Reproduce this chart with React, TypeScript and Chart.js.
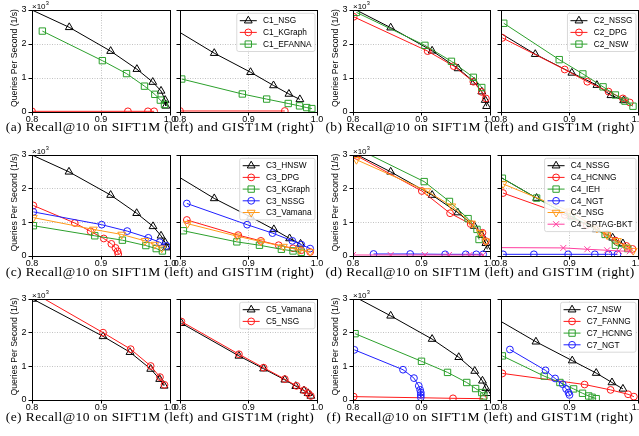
import React, { useEffect, useRef } from 'react';
import { Chart, registerables } from 'chart.js';

Chart.register(...registerables);

type Pt = [number, number];
type Mk = 'tri' | 'triDown' | 'circle' | 'square' | 'x';

// ---------- axes / text ----------
const X_TICKS = [0.8, 0.9, 1.0];
const Y_TICKS = [0, 1, 2, 3];
const X_MIN = 0.8;
const X_MAX = 1.0;
const Y_MIN = 0;
const Y_MAX = 3;
const Y_TITLE = 'Queries Per Second (1/s)';
const OFFSET_BASE = '×10';
const OFFSET_EXP = '3';
const CAPTIONS = [
  '(a) Recall@10 on SIFT1M (left) and GIST1M (right)',
  '(b) Recall@10 on SIFT1M (left) and GIST1M (right)',
  '(c) Recall@10 on SIFT1M (left) and GIST1M (right)',
  '(d) Recall@10 on SIFT1M (left) and GIST1M (right)',
  '(e) Recall@10 on SIFT1M (left) and GIST1M (right)',
  '(f) Recall@10 on SIFT1M (left) and GIST1M (right)',
];

// ---------- data: [Recall@10, QPS x10^3] ----------
// (a)
const a_sift_NSG: Pt[] = [[0.785, 3.14], [0.854, 2.49], [0.914, 1.79], [0.952, 1.26], [0.975, 0.88], [0.987, 0.62], [0.993, 0.35], [0.994, 0.18]];
const a_sift_KGraph: Pt[] = [[0.8, 0.02], [0.939, 0.02], [0.968, 0.02], [0.977, 0.02]];
const a_sift_EFANNA: Pt[] = [[0.815, 2.38], [0.902, 1.51], [0.937, 1.13], [0.963, 0.76], [0.978, 0.52], [0.986, 0.35], [0.992, 0.22]];
const a_gist_NSG: Pt[] = [[0.79, 2.46], [0.85, 1.73], [0.903, 1.17], [0.9365, 0.78], [0.959, 0.53], [0.975, 0.37]];
const a_gist_KGraph: Pt[] = [[0.8, 0.03], [0.953, 0.03]];
const a_gist_EFANNA: Pt[] = [[0.8025, 0.97], [0.891, 0.53], [0.9265, 0.38], [0.958, 0.25], [0.9745, 0.18], [0.985, 0.13], [0.9925, 0.1]];
// (b)
const b_sift_NSSG: Pt[] = [[0.79, 3.15], [0.855, 2.48], [0.9155, 1.8], [0.9534, 1.28], [0.9767, 0.885], [0.988, 0.6], [0.993, 0.35], [0.995, 0.17]];
const b_sift_DPG: Pt[] = [[0.801, 2.8], [0.909, 1.79], [0.947, 1.35], [0.9757, 0.89], [0.988, 0.59], [0.994, 0.4]];
const b_sift_NSW: Pt[] = [[0.805, 2.93], [0.905, 1.96], [0.9437, 1.49], [0.9757, 1.02], [0.988, 0.72]];
const b_gist_NSSG: Pt[] = [[0.79, 2.43], [0.85, 1.7], [0.9034, 1.15], [0.94, 0.79], [0.9605, 0.49], [0.979, 0.34]];
const b_gist_DPG: Pt[] = [[0.802, 2.18], [0.893, 1.25], [0.926, 0.89], [0.957, 0.6], [0.978, 0.4], [0.988, 0.28]];
const b_gist_NSW: Pt[] = [[0.804, 2.61], [0.885, 1.54], [0.9195, 1.12], [0.949, 0.74], [0.967, 0.5], [0.981, 0.32], [0.9927, 0.17]];
// (c)
const c_sift_HNSW: Pt[] = [[0.785, 3.14], [0.8536, 2.5], [0.914, 1.81], [0.9517, 1.27], [0.9754, 0.88], [0.987, 0.6], [0.993, 0.4], [0.995, 0.25]];
const c_sift_DPG: Pt[] = [[0.802, 1.5], [0.862, 0.98], [0.885, 0.73], [0.904, 0.52], [0.915, 0.36], [0.921, 0.24], [0.924, 0.14], [0.925, 0.06]];
const c_sift_KGraph: Pt[] = [[0.802, 0.9], [0.891, 0.6], [0.931, 0.47], [0.965, 0.31], [0.98, 0.22], [0.989, 0.15]];
const c_sift_NSSG: Pt[] = [[0.802, 1.31], [0.901, 0.93], [0.938, 0.74], [0.9686, 0.54], [0.985, 0.41], [0.995, 0.3]];
const c_sift_Vamana: Pt[] = [[0.802, 1.14], [0.889, 0.79], [0.93, 0.64], [0.9638, 0.45], [0.978, 0.34], [0.988, 0.23]];
const c_gist_HNSW: Pt[] = [[0.79, 2.45], [0.85, 1.71], [0.903, 1.16], [0.937, 0.79], [0.96, 0.52], [0.976, 0.36]];
const c_gist_DPG: Pt[] = [[0.81, 1.07], [0.885, 0.62], [0.918, 0.45], [0.944, 0.32], [0.965, 0.23], [0.977, 0.17], [0.99, 0.12]];
const c_gist_KGraph: Pt[] = [[0.805, 0.75], [0.883, 0.42], [0.916, 0.32], [0.948, 0.2], [0.965, 0.15], [0.977, 0.11]];
const c_gist_NSSG: Pt[] = [[0.81, 1.56], [0.898, 0.93], [0.935, 0.68], [0.964, 0.45], [0.977, 0.34], [0.99, 0.22]];
const c_gist_Vamana: Pt[] = [[0.811, 0.96], [0.883, 0.59], [0.918, 0.43], [0.951, 0.28], [0.974, 0.18], [0.99, 0.12]];
// (d)
const d_sift_NSSG: Pt[] = [[0.805, 3.02], [0.855, 2.5], [0.9155, 1.81], [0.953, 1.29], [0.977, 0.89], [0.988, 0.62], [0.994, 0.38], [0.996, 0.2]];
const d_sift_HCNNG: Pt[] = [[0.806, 2.97], [0.9005, 1.93], [0.9417, 1.27], [0.9718, 0.95], [0.989, 0.69], [0.994, 0.44]];
const d_sift_IEH: Pt[] = [[0.79, 3.35], [0.9039, 2.21], [0.9408, 1.62], [0.968, 1.11], [0.981, 0.79], [0.984, 0.49]];
const d_sift_NGT: Pt[] = [[0.83, 0.06], [0.8835, 0.06], [0.9345, 0.05], [0.9646, 0.05], [0.98, 0.05], [0.99, 0.05]];
const d_sift_NSG: Pt[] = [[0.805, 2.86], [0.9078, 1.93], [0.9442, 1.48], [0.973, 0.97], [0.986, 0.69], [0.994, 0.44]];
const d_sift_SPTAG: Pt[] = [[0.8, 0.03], [0.855, 0.03], [0.905, 0.03], [0.94, 0.03], [0.97, 0.03], [0.99, 0.03]];
const d_gist_NSSG: Pt[] = [[0.79, 2.45], [0.852, 1.72], [0.903, 1.17], [0.939, 0.79], [0.963, 0.54], [0.978, 0.37]];
const d_gist_HCNNG: Pt[] = [[0.803, 1.87], [0.893, 1.22], [0.925, 0.92], [0.955, 0.64], [0.967, 0.46], [0.983, 0.3], [0.992, 0.21]];
const d_gist_IEH: Pt[] = [[0.802, 2.31], [0.852, 1.72], [0.903, 1.17], [0.952, 0.64], [0.967, 0.32], [0.985, 0.22]];
const d_gist_NGT: Pt[] = [[0.803, 0.05], [0.848, 0.05], [0.898, 0.05], [0.937, 0.05], [0.957, 0.05], [0.97, 0.05]];
const d_gist_NSG: Pt[] = [[0.803, 2.14], [0.9, 1.33], [0.94, 0.82], [0.955, 0.62], [0.97, 0.45], [0.983, 0.26], [0.993, 0.16]];
const d_gist_SPTAG: Pt[] = [[0.79, 0.25], [0.891, 0.24], [0.926, 0.2], [0.955, 0.17], [0.972, 0.15], [0.988, 0.14]];
// (e)
const e_sift_Vamana: Pt[] = [[0.801, 3.0], [0.903, 1.89], [0.942, 1.42], [0.972, 0.92], [0.985, 0.62], [0.9915, 0.42]];
const e_sift_NSG: Pt[] = [[0.79, 3.33], [0.903, 2.0], [0.943, 1.51], [0.972, 1.01], [0.9855, 0.68], [0.992, 0.45]];
const e_gist_Vamana: Pt[] = [[0.802, 2.28], [0.886, 1.31], [0.922, 0.93], [0.953, 0.6], [0.969, 0.41], [0.981, 0.28], [0.987, 0.2], [0.991, 0.12]];
const e_gist_NSG: Pt[] = [[0.802, 2.33], [0.886, 1.36], [0.922, 0.96], [0.953, 0.62], [0.97, 0.42], [0.981, 0.29], [0.987, 0.2], [0.991, 0.12]];
// (f)
const f_sift_NSW: Pt[] = [[0.79, 3.2], [0.855, 2.5], [0.9155, 1.81], [0.9544, 1.27], [0.9777, 0.86], [0.989, 0.57], [0.994, 0.35], [0.996, 0.2]];
const f_sift_FANNG: Pt[] = [[0.801, 0.1], [0.946, 0.05], [0.99, 0.04]];
const f_sift_HCNNG: Pt[] = [[0.803, 1.97], [0.9, 1.15], [0.938, 0.82], [0.966, 0.52], [0.979, 0.34], [0.988, 0.22], [0.991, 0.12]];
const f_sift_NGT: Pt[] = [[0.802, 1.49], [0.873, 0.9], [0.889, 0.65], [0.896, 0.42], [0.898, 0.3], [0.899, 0.22], [0.899, 0.15], [0.899, 0.08]];
const f_gist_NSW: Pt[] = [[0.79, 2.45], [0.851, 1.73], [0.904, 1.17], [0.939, 0.8], [0.962, 0.52], [0.978, 0.33]];
const f_gist_FANNG: Pt[] = [[0.802, 0.79], [0.922, 0.46], [0.96, 0.3], [0.9855, 0.17], [0.994, 0.1]];
const f_gist_HCNNG: Pt[] = [[0.802, 1.31], [0.863, 0.71], [0.886, 0.52], [0.906, 0.33], [0.919, 0.2], [0.928, 0.12], [0.933, 0.08], [0.939, 0.04]];
const f_gist_NGT: Pt[] = [[0.813, 1.5], [0.865, 0.88], [0.879, 0.64], [0.89, 0.47], [0.895, 0.33], [0.8985, 0.22], [0.9, 0.15]];

// ---------- styles ----------
const K = '#000000';
const R = '#ff1a1a';
const G = '#2ca02c';
const B = '#1f1fff';
const O = '#ff9a1a';
const M = '#ff3fa0';
const RADIUS: Record<Mk, number> = { tri: 4.5, triDown: 4.5, circle: 3.4, square: 4.5, x: 4.2 };
const SANS = '"Liberation Sans", Arial, sans-serif';

interface Series { label: string; color: string; mk: Mk; data: Pt[] }
const S = (label: string, color: string, mk: Mk, data: Pt[]): Series => ({ label, color, mk, data });

const PANELS: { sift: Series[]; gist: Series[] }[] = [
  {
    sift: [S('C1_NSG', K, 'tri', a_sift_NSG), S('C1_KGraph', R, 'circle', a_sift_KGraph), S('C1_EFANNA', G, 'square', a_sift_EFANNA)],
    gist: [S('C1_NSG', K, 'tri', a_gist_NSG), S('C1_KGraph', R, 'circle', a_gist_KGraph), S('C1_EFANNA', G, 'square', a_gist_EFANNA)],
  },
  {
    sift: [S('C2_NSSG', K, 'tri', b_sift_NSSG), S('C2_DPG', R, 'circle', b_sift_DPG), S('C2_NSW', G, 'square', b_sift_NSW)],
    gist: [S('C2_NSSG', K, 'tri', b_gist_NSSG), S('C2_DPG', R, 'circle', b_gist_DPG), S('C2_NSW', G, 'square', b_gist_NSW)],
  },
  {
    sift: [S('C3_HNSW', K, 'tri', c_sift_HNSW), S('C3_DPG', R, 'circle', c_sift_DPG), S('C3_KGraph', G, 'square', c_sift_KGraph), S('C3_NSSG', B, 'circle', c_sift_NSSG), S('C3_Vamana', O, 'triDown', c_sift_Vamana)],
    gist: [S('C3_HNSW', K, 'tri', c_gist_HNSW), S('C3_DPG', R, 'circle', c_gist_DPG), S('C3_KGraph', G, 'square', c_gist_KGraph), S('C3_NSSG', B, 'circle', c_gist_NSSG), S('C3_Vamana', O, 'triDown', c_gist_Vamana)],
  },
  {
    sift: [S('C4_NSSG', K, 'tri', d_sift_NSSG), S('C4_HCNNG', R, 'circle', d_sift_HCNNG), S('C4_IEH', G, 'square', d_sift_IEH), S('C4_NGT', B, 'circle', d_sift_NGT), S('C4_NSG', O, 'triDown', d_sift_NSG), S('C4_SPTAG-BKT', M, 'x', d_sift_SPTAG)],
    gist: [S('C4_NSSG', K, 'tri', d_gist_NSSG), S('C4_HCNNG', R, 'circle', d_gist_HCNNG), S('C4_IEH', G, 'square', d_gist_IEH), S('C4_NGT', B, 'circle', d_gist_NGT), S('C4_NSG', O, 'triDown', d_gist_NSG), S('C4_SPTAG-BKT', M, 'x', d_gist_SPTAG)],
  },
  {
    sift: [S('C5_Vamana', K, 'tri', e_sift_Vamana), S('C5_NSG', R, 'circle', e_sift_NSG)],
    gist: [S('C5_Vamana', K, 'tri', e_gist_Vamana), S('C5_NSG', R, 'circle', e_gist_NSG)],
  },
  {
    sift: [S('C7_NSW', K, 'tri', f_sift_NSW), S('C7_FANNG', R, 'circle', f_sift_FANNG), S('C7_HCNNG', G, 'square', f_sift_HCNNG), S('C7_NGT', B, 'circle', f_sift_NGT)],
    gist: [S('C7_NSW', K, 'tri', f_gist_NSW), S('C7_FANNG', R, 'circle', f_gist_FANNG), S('C7_HCNNG', G, 'square', f_gist_HCNNG), S('C7_NGT', B, 'circle', f_gist_NGT)],
  },
];

// ---------- layout ----------
const COL_X = [0, 320];
const ROW_Y = [0, 145, 290];
const PLOT_X = [[[32, 170], [180, 317]], [[353, 490], [501, 638]]];
const PLOT_Y = [[10, 112], [155, 256], [299, 400]];
const CANVAS_H = 140;

function drawMarker(ctx: CanvasRenderingContext2D, mk: Mk, x: number, y: number, color: string) {
  const r = RADIUS[mk];
  ctx.beginPath();
  if (mk === 'circle') {
    ctx.arc(x, y, r, 0, Math.PI * 2);
  } else if (mk === 'square') {
    const s = r * Math.SQRT1_2;
    ctx.rect(x - s, y - s, 2 * s, 2 * s);
  } else if (mk === 'tri' || mk === 'triDown') {
    let a = mk === 'tri' ? 0 : Math.PI;
    for (let k = 0; k < 3; k++) {
      const px = x + Math.sin(a) * r;
      const py = y - Math.cos(a) * r;
      if (k === 0) ctx.moveTo(px, py); else ctx.lineTo(px, py);
      a += (2 * Math.PI) / 3;
    }
    ctx.closePath();
  } else {
    const d = r * Math.SQRT1_2;
    ctx.moveTo(x - d, y - d); ctx.lineTo(x + d, y + d);
    ctx.moveTo(x + d, y - d); ctx.lineTo(x - d, y + d);
  }
  ctx.strokeStyle = color;
  ctx.lineWidth = 1;
  ctx.stroke();
}

function Sub({ p, side }: { p: number; side: number }) {
  const ref = useRef<HTMLCanvasElement>(null);
  const col = p % 2;
  const row = Math.floor(p / 2);
  const cx = COL_X[col] + (side === 0 ? 0 : 172);
  const cy = ROW_Y[row];
  const W = side === 0 ? 180 : 160;
  const H = CANVAS_H;

  useEffect(() => {
    const series = side === 0 ? PANELS[p].sift : PANELS[p].gist;
    const [pl, pr] = PLOT_X[col][side];
    const [pt, pb] = PLOT_Y[row];
    const yW = pl - cx;
    const padR = cx + W - pr;
    const padT = pt - cy;
    const xH = cy + H - pb;
    const isLeft = side === 0;

    const deco = {
      id: 'deco' + p + side,
      afterDatasetsDraw(chart: Chart) {
        const { ctx, chartArea: ca } = chart;
        const al = (v: number) => Math.round(v - 0.5) + 0.5;
        ctx.save();
        ctx.setLineDash([]);
        ctx.strokeStyle = '#000';
        ctx.lineWidth = 1;
        const L = al(ca.left), T = al(ca.top), Rr = al(ca.right), Bb = al(ca.bottom);
        ctx.strokeRect(L, T, Rr - L, Bb - T);

        if (isLeft) {
          // y title
          ctx.save();
          ctx.translate(ca.left - 17, (ca.top + ca.bottom) / 2 - 3);
          ctx.rotate(-Math.PI / 2);
          ctx.font = `8.7px ${SANS}`;
          ctx.fillStyle = '#000';
          ctx.textAlign = 'center';
          ctx.textBaseline = 'middle';
          ctx.fillText(Y_TITLE, 0, 0);
          ctx.restore();
          // offset text
          ctx.font = `8px ${SANS}`;
          ctx.fillStyle = '#000';
          ctx.textAlign = 'left';
          ctx.textBaseline = 'alphabetic';
          ctx.fillText(OFFSET_BASE, ca.left, ca.top - 1.3);
          const w = ctx.measureText(OFFSET_BASE).width;
          ctx.font = `5.6px ${SANS}`;
          ctx.fillText(OFFSET_EXP, ca.left + w + 0.3, ca.top - 4.6);
        } else {
          // legend
          const fs = 8.3;
          ctx.font = `${fs}px ${SANS}`;
          const tw = Math.max(...series.map((s) => ctx.measureText(s.label).width));
          const padL = 3, lineLen = 17, gap = 6.3, padRt = 3.5;
          const rowH = 11.7, padTop = 7.4;
          const boxW = padL + lineLen + gap + tw + padRt;
          const boxH = padTop * 2 + (series.length - 1) * rowH;
          const right = ca.right - 2;
          const top = ca.top + 3.3;
          const left = right - boxW;
          ctx.beginPath();
          if ((ctx as any).roundRect) (ctx as any).roundRect(left, top, boxW, boxH, 2);
          else ctx.rect(left, top, boxW, boxH);
          ctx.fillStyle = 'rgba(255,255,255,0.85)';
          ctx.fill();
          ctx.strokeStyle = '#cfcfcf';
          ctx.lineWidth = 0.8;
          ctx.stroke();
          series.forEach((s, i) => {
            const yy = top + padTop + i * rowH;
            ctx.beginPath();
            ctx.moveTo(left + padL, yy);
            ctx.lineTo(left + padL + lineLen, yy);
            ctx.strokeStyle = s.color;
            ctx.lineWidth = 1;
            ctx.stroke();
            drawMarker(ctx, s.mk, left + padL + lineLen / 2, yy, s.color);
            ctx.fillStyle = '#000';
            ctx.font = `${fs}px ${SANS}`;
            ctx.textAlign = 'left';
            ctx.textBaseline = 'middle';
            ctx.fillText(s.label, left + padL + lineLen + gap, yy + 0.5);
          });
        }
        ctx.restore();
      },
    };

    const gridColor = (edgeVals: number[]) => (c: any) => {
      const v = c.tick ? c.tick.value : NaN;
      return edgeVals.some((e) => Math.abs(e - v) < 1e-9) ? 'rgba(0,0,0,0)' : '#b3b3b3';
    };

    const chart = new Chart(ref.current!, {
      type: 'line',
      data: {
        datasets: series.map((s, i) => ({
          label: s.label,
          data: s.data.map(([x, y]) => ({ x, y })),
          borderColor: s.color,
          backgroundColor: 'rgba(0,0,0,0)',
          borderWidth: 1,
          pointStyle: s.mk === 'square' ? 'rect' : s.mk === 'x' ? 'crossRot' : s.mk === 'circle' ? 'circle' : 'triangle',
          rotation: s.mk === 'triDown' ? 180 : 0,
          pointRadius: RADIUS[s.mk],
          pointBorderColor: s.color,
          pointBackgroundColor: 'rgba(0,0,0,0)',
          pointBorderWidth: 1,
          tension: 0,
          fill: false,
          order: -i,
        })),
      },
      options: {
        animation: false,
        responsive: false,
        events: [],
        layout: { padding: { left: 0, right: padR, top: padT, bottom: 0 } },
        plugins: { legend: { display: false }, tooltip: { enabled: false } },
        scales: {
          x: {
            type: 'linear',
            min: X_MIN,
            max: X_MAX,
            afterBuildTicks: (sc: any) => { sc.ticks = X_TICKS.map((v) => ({ value: v })); },
            afterFit: (sc: any) => { sc.height = xH; sc.paddingLeft = 0; sc.paddingRight = 0; },
            ticks: {
              autoSkip: false,
              maxRotation: 0,
              padding: -1.6,
              color: '#000',
              font: { family: SANS, size: 9 },
              callback: (v: any) => Number(v).toFixed(1),
            },
            grid: { color: gridColor([X_MIN, X_MAX]), lineWidth: 0.8, tickColor: '#000', tickLength: 3.5, tickWidth: 1 },
            border: { display: false, dash: [1, 1.5] },
          },
          y: {
            type: 'linear',
            min: Y_MIN,
            max: Y_MAX,
            afterBuildTicks: (sc: any) => { sc.ticks = Y_TICKS.map((v) => ({ value: v })); },
            afterFit: (sc: any) => { sc.width = yW; sc.paddingTop = 0; sc.paddingBottom = 0; },
            ticks: {
              autoSkip: false,
              padding: 2,
              color: '#000',
              font: { family: SANS, size: 9 },
              callback: (v: any) => (isLeft ? String(v) : ''),
            },
            grid: { color: gridColor([Y_MIN, Y_MAX]), lineWidth: 0.8, tickColor: '#000', tickLength: 3.5, tickWidth: 1 },
            border: { display: false, dash: [1, 1.5] },
          },
        },
      },
      plugins: [deco],
    } as any);
    return () => chart.destroy();
  }, []);

  return (
    <canvas
      ref={ref}
      width={W}
      height={H}
      style={{ position: 'absolute', left: cx, top: cy, width: W, height: H }}
    />
  );
}

export default function App() {
  return (
    <div style={{ position: 'absolute', left: 0, top: 0, width: 639, height: 436, overflow: 'hidden', background: '#fff' }}>
      {PANELS.map((_, p) => (
        <React.Fragment key={p}>
          <Sub p={p} side={0} />
          <Sub p={p} side={1} />
          <div
            style={{
              position: 'absolute',
              left: COL_X[p % 2],
              top: ROW_Y[Math.floor(p / 2)] + 119.5,
              width: 320,
              textAlign: 'center',
              fontFamily: '"Liberation Serif", "Times New Roman", serif',
              fontSize: 13.5,
              letterSpacing: '0.4px',
              lineHeight: '14px',
              whiteSpace: 'nowrap',
              color: '#000',
            }}
          >
            {CAPTIONS[p]}
          </div>
        </React.Fragment>
      ))}
    </div>
  );
}
